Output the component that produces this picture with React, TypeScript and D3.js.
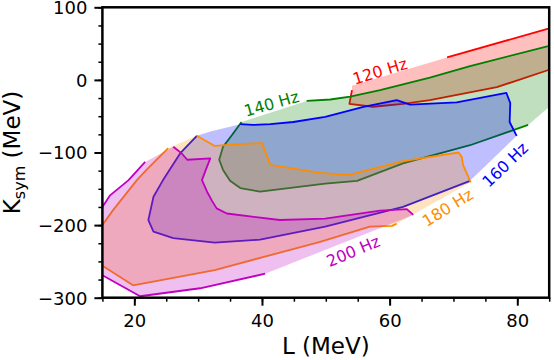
import React, { useRef, useEffect } from 'react';
import * as d3 from 'd3';

type Pt = [number, number];

// contour pieces, as [L, Ksym] in MeV

// 120 Hz
const corner120: Pt[] = [[54.1, -8]];
const top120: Pt[] = [[69, 31], [85, 71]];
const bottom120: Pt[] = [[54.1, -14], [53.7, -33], [57.4, -37], [62.1, -33], [66.3, -28], [76.8, -10], [85, 14]];

// 140 Hz
const top140: Pt[] = [[47, -29], [50.7, -27], [53.8, -23], [58.5, -14], [66.3, 3], [72.6, 19], [85, 47]];
const corner140: Pt[] = [[85, -37]];
const bottom140: Pt[] = [
  [36.8, -58], [35.3, -76], [33.9, -92], [33.3, -110], [33.9, -124], [35, -139], [36.6, -149],
  [39.7, -154], [49.9, -143], [54.9, -139], [62.1, -115], [72.6, -90], [81.7, -62],
];

// 160 Hz
const corner160: Pt[] = [[31.9, -71]];
const top160: Pt[] = [
  [36.6, -61], [38.6, -62], [41.3, -61], [44.9, -58], [49.9, -51], [55.9, -37], [61.1, -28],
  [63.2, -34], [70.5, -31], [78.3, -18], [78.9, -32], [78.8, -58], [79.9, -77],
];
const bottom160: Pt[] = [
  [29.8, -77], [27.2, -101], [24.5, -138], [23, -161], [22.2, -193], [23, -209], [26.1, -218],
  [32.6, -224], [39.7, -220], [49.9, -202], [62.1, -175], [72.6, -139],
];

// 180 Hz
const top180: Pt[] = [
  [29.8, -77], [32.6, -91], [37, -88], [40, -87], [41.3, -117], [49.1, -128], [53.5, -131],
  [62.1, -112], [70.8, -100], [71.3, -106], [71.5, -117], [72.7, -141],
];
const bottom180: Pt[] = [[15, -256], [19.8, -283], [32.6, -262], [49.1, -223], [56.9, -202], [60.4, -201], [61.1, -198]];
const left180: Pt[] = [[25.3, -94], [21.9, -124], [20.4, -138], [16.7, -179], [15, -200]];

// 200 Hz
const inner200: Pt[] = [
  [26.1, -92], [27.4, -101], [28.3, -110], [31.9, -108], [31.2, -124], [30.6, -138], [31.4, -154],
  [32.2, -167], [32.9, -177], [34.5, -184], [42.8, -193], [49.9, -191], [58.5, -180], [62.7, -178], [63.7, -186],
];
const bottom200: Pt[] = [[15, -269], [20.9, -298], [30.3, -287], [40.5, -267]];
const left200: Pt[] = [[21.7, -113], [19.1, -138], [16.2, -159], [15, -175]];

const labels = ['120 Hz', '140 Hz', '160 Hz', '180 Hz', '200 Hz'];
const labelL = [58.5, 41.5, 78.1, 69.1, 54.3];
const labelK = [12, -33, -117, -176, -236];
const labelAngle = [-17, -16, -44, -32, -23];

const xTicks = [20, 40, 60, 80];
const yTicks = [-300, -200, -100, 0, 100];

const rev = (a: Pt[]) => [...a].reverse();

const bands = [
  { color: '#ff0000', fill: [...corner120, ...top120, ...rev(bottom120)], lines: [top120, bottom120] },
  { color: '#008000', fill: [...top140, ...corner140, ...rev(bottom140)], lines: [top140, bottom140] },
  { color: '#0000ff', fill: [...corner160, ...top160, ...rev(bottom160)], lines: [top160, bottom160] },
  { color: '#ff8c00', fill: [...top180, ...rev(bottom180), ...rev(left180)], lines: [top180, bottom180, left180] },
  { color: '#bf00bf', fill: [...inner200, ...rev(bottom200), ...rev(left200)], lines: [inner200, bottom200, left200] },
];

const font = 'DejaVu Sans, sans-serif';

const App = () => {
  const svgRef = useRef<SVGSVGElement>(null);

  useEffect(() => {
    const svg = d3.select(svgRef.current);
    svg.selectAll('*').remove();

    const x = d3.scaleLinear().domain([15, 85]).range([102.4, 549.2]);
    const y = d3.scaleLinear().domain([-300, 100]).range([297.7, 7.3]);
    const [x0, x1] = x.range();
    const [y0, y1] = y.range();

    svg.append('defs').append('clipPath').attr('id', 'plot-clip')
      .append('rect').attr('x', x0).attr('y', y1).attr('width', x1 - x0).attr('height', y0 - y1);

    const line = d3.line<Pt>().x((d) => x(d[0])).y((d) => y(d[1]));
    const plot = svg.append('g').attr('clip-path', 'url(#plot-clip)');

    bands.forEach((b) => {
      plot.append('path')
        .attr('d', line(b.fill) + 'Z')
        .attr('fill', b.color)
        .attr('fill-opacity', 0.25)
        .attr('stroke', 'none');
      b.lines.forEach((l) => {
        plot.append('path')
          .attr('d', line(l))
          .attr('fill', 'none')
          .attr('stroke', b.color)
          .attr('stroke-width', 1.8)
          .attr('stroke-linejoin', 'round');
      });
    });

    labels.forEach((t, i) => {
      svg.append('text')
        .attr('transform', `translate(${x(labelL[i])},${y(labelK[i])}) rotate(${labelAngle[i]})`)
        .attr('text-anchor', 'middle')
        .attr('dominant-baseline', 'central')
        .attr('font-family', font)
        .attr('font-size', 16)
        .attr('fill', bands[i].color)
        .text(t);
    });

    // axes: major + minor ticks
    const fmt = d3.format('d');
    const styleAxis = (g, w) => {
      g.select('.domain').remove();
      g.attr('font-family', font).attr('font-size', 18);
      g.selectAll('line').attr('stroke', '#000').attr('stroke-width', w);
      g.selectAll('text').attr('fill', '#000');
    };

    svg.append('g').attr('transform', `translate(0,${y0})`)
      .call(d3.axisBottom(x).tickValues(d3.range(15, 86, 5)).tickSize(4).tickFormat(() => ''))
      .call((g) => styleAxis(g, 1.5));
    svg.append('g').attr('transform', `translate(0,${y0})`)
      .call(d3.axisBottom(x).tickValues(xTicks).tickSize(8).tickPadding(9).tickFormat(fmt))
      .call((g) => styleAxis(g, 2));

    svg.append('g').attr('transform', `translate(${x0},0)`)
      .call(d3.axisLeft(y).tickValues(d3.range(-300, 101, 25)).tickSize(4).tickFormat(() => ''))
      .call((g) => styleAxis(g, 1.5));
    svg.append('g').attr('transform', `translate(${x0},0)`)
      .call(d3.axisLeft(y).tickValues(yTicks).tickSize(8).tickPadding(7).tickFormat(fmt))
      .call((g) => styleAxis(g, 2))
      .call((g) => g.selectAll('text').attr('dy', '0.36em'));

    svg.append('rect')
      .attr('x', x0).attr('y', y1).attr('width', x1 - x0).attr('height', y0 - y1)
      .attr('fill', 'none').attr('stroke', '#000').attr('stroke-width', 2.5);

    svg.append('text')
      .attr('x', (x0 + x1) / 2).attr('y', 354)
      .attr('text-anchor', 'middle')
      .attr('font-family', font).attr('font-size', 23)
      .text('L (MeV)');

    const yl = svg.append('text')
      .attr('transform', `translate(20,${(y0 + y1) / 2}) rotate(-90)`)
      .attr('text-anchor', 'middle')
      .attr('font-family', font).attr('font-size', 23);
    yl.append('tspan').text('K');
    yl.append('tspan').attr('font-size', 16).attr('dy', 5).text('sym');
    yl.append('tspan').attr('dy', -5).text(' (MeV)');
  }, []);

  return (
    <svg ref={svgRef} width={554} height={360} style={{ position: 'absolute', left: 0, top: 0 }} />
  );
};

export default App;
